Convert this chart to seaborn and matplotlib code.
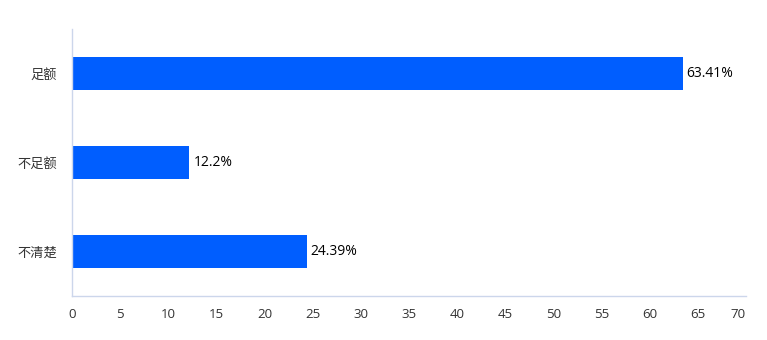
import matplotlib
matplotlib.use("Agg")
import matplotlib.pyplot as plt
import seaborn as sns
import pandas as pd

categories = ["足额", "不足额", "不清楚"]
values = [63.41, 12.2, 24.39]
labels = ["63.41%", "12.2%", "24.39%"]
xticks = [0, 5, 10, 15, 20, 25, 30, 35, 40, 45, 50, 55, 60, 65, 70]

sns.set_theme(style="white")
plt.rcParams['font.family'] = ['Open Sans', 'Noto Sans CJK SC', 'DejaVu Sans']

df = pd.DataFrame({"cat": categories, "val": values})

fig = plt.figure(figsize=(7.67, 3.4), dpi=100)
ax = fig.add_axes([72/767, 44/340, (746-72)/767, (296-29)/340])
sns.barplot(data=df, x="val", y="cat", orient="h", color="#005EFF",
            saturation=1, width=0.37, linewidth=0, ax=ax)
ax.set_xlim(0, 70)
ax.set_ylim(2.5, -0.5)
ax.set_xticks(xticks)
ax.set_xticklabels([str(t) for t in xticks])
ax.get_xticklabels()[-1].set_horizontalalignment("right")
ax.set_xlabel("")
ax.set_ylabel("")
for s in ["top", "right"]:
    ax.spines[s].set_visible(False)
for s in ["left", "bottom"]:
    ax.spines[s].set_color("#ccd6eb")
    ax.spines[s].set_linewidth(1)
ax.tick_params(axis="both", length=0, labelsize=9.5, labelcolor="#333333")
ax.tick_params(axis="x", pad=9)
ax.tick_params(axis="y", pad=11)
for i, (v, l) in enumerate(zip(values, labels)):
    ax.text(v + 0.4, i, l, va="center", ha="left", fontsize=10, color="#000000")

fig.savefig("out.png", dpi=100)
